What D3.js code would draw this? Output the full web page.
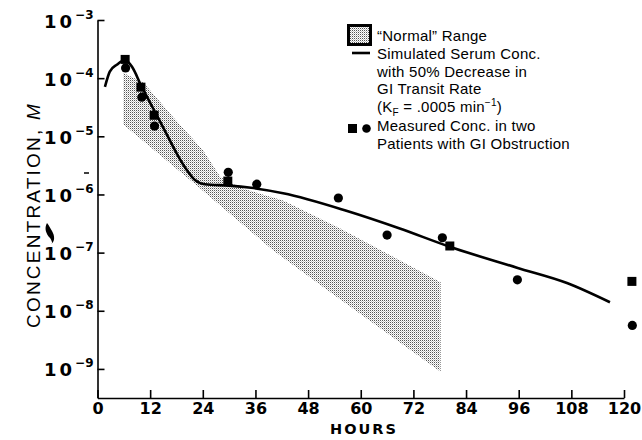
<!DOCTYPE html>
<html>
<head>
<meta charset="utf-8">
<script src="https://cdn.jsdelivr.net/npm/d3@7"></script>
<style>
  body { margin: 0; background: #fff; }
  svg { display: block; }
</style>
</head>
<body>
<svg id="chart" width="642" height="440"></svg>
<script>
// hours on the x axis, molar concentration (log) on the y axis
const xTicks = [0, 12, 24, 36, 48, 60, 72, 84, 96, 108, 120];
const yTicks = [1e-3, 1e-4, 1e-5, 1e-6, 1e-7, 1e-8, 1e-9];
const yTickExp = ["\u22123", "\u22124", "\u22125", "\u22126", "\u22127", "\u22128", "\u22129"];

// simulated serum conc. with 50% decrease in GI transit rate
const simHours = [1.7, 2.8, 4.4, 6.3, 7.9, 9.9, 12.6, 15.4, 18.1, 20.4, 22.2, 24.5, 30, 35, 42.3, 56.9, 68.9, 80.3, 95.6, 107, 116.8];
const simConc = [7.1e-5, 1.3e-4, 1.7e-4, 2.05e-4, 1.55e-4, 7.6e-5, 3.1e-5, 1.23e-5, 5.0e-6, 2.6e-6, 1.77e-6, 1.5e-6, 1.42e-6, 1.3e-6, 1.05e-6, 5.2e-7, 2.6e-7, 1.26e-7, 5.5e-8, 3.0e-8, 1.4e-8];

// "normal" range band, upper and lower edges
const bandUpperHours = [5.9, 10.5, 17.2, 24.0, 28.0, 32.5, 42.3, 55.3, 78.2];
const bandUpperConc = [1.23e-4, 8.3e-5, 2.15e-5, 5.8e-6, 2.0e-6, 1.3e-6, 7.9e-7, 2.6e-7, 3.1e-8];
const bandLowerHours = [5.9, 21.8, 40.0, 53.0, 78.2];
const bandLowerConc = [1.6e-5, 1.6e-6, 1.1e-7, 2.1e-8, 8.9e-10];

// measured conc. in two patients (squares = patient 1, circles = patient 2)
const squareHours = [6.3, 9.9, 12.9, 29.7, 80.3, 121.8];
const squareConc = [2.1e-4, 7.0e-5, 2.3e-5, 1.7e-6, 1.3e-7, 3.2e-8];
const circleHours = [6.4, 10.1, 13.0, 29.8, 36.3, 54.9, 66.0, 78.6, 95.7, 121.9];
const circleConc = [1.5e-4, 4.7e-5, 1.5e-5, 2.4e-6, 1.5e-6, 8.7e-7, 2.0e-7, 1.8e-7, 3.4e-8, 5.6e-9];

const svg = d3.select("#chart");

const x = d3.scaleLinear().domain([0, 120]).range([97.5, 624]);
const y = d3.scaleLog().domain([Math.pow(10, -9.5), 1e-3]).range([398, 20]);

// stipple pattern for the shaded range
const defs = svg.append("defs");
const pat = defs.append("pattern")
  .attr("id", "stipple")
  .attr("patternUnits", "userSpaceOnUse")
  .attr("width", 2)
  .attr("height", 2);
pat.append("rect").attr("width", 2).attr("height", 2).attr("fill", "#fff");
pat.append("rect").attr("x", 0).attr("y", 0).attr("width", 1).attr("height", 1).attr("fill", "#555");
pat.append("rect").attr("x", 1).attr("y", 1).attr("width", 1).attr("height", 1).attr("fill", "#c4c4c4");

// band polygon: upper edge forward, lower edge back
const bandPts = bandUpperHours.map((h, i) => [x(h), y(bandUpperConc[i])])
  .concat(bandLowerHours.map((h, i) => [x(h), y(bandLowerConc[i])]).reverse());
svg.append("path")
  .attr("d", d3.line()(bandPts) + "Z")
  .attr("fill", "url(#stipple)");

// axes
const axisFont = "'DejaVu Sans', sans-serif";

const gx = svg.append("g")
  .attr("transform", "translate(0,398)")
  .call(d3.axisBottom(x).tickValues(xTicks).tickSize(-8).tickSizeOuter(0).tickPadding(5));
gx.selectAll("text")
  .attr("font-family", axisFont)
  .attr("font-weight", "bold")
  .attr("font-size", 16)
  .attr("fill", "#000");

const gy = svg.append("g")
  .attr("transform", "translate(97.5,0)")
  .call(d3.axisLeft(y).tickValues(yTicks).tickSize(-7).tickSizeOuter(0).tickFormat(() => ""));
gy.selectAll(".tick text").remove();
gy.selectAll(".tick").each(function (d, i) {
  const t = d3.select(this).append("text")
    .attr("x", -4)
    .attr("y", 7)
    .attr("text-anchor", "end")
    .attr("font-family", axisFont)
    .attr("font-weight", "bold")
    .attr("font-size", 18)
    .attr("fill", "#000");
  t.append("tspan").attr("letter-spacing", 3).text("10");
  t.append("tspan").attr("dy", -9).attr("font-size", 12).text(yTickExp[i]);
});

svg.selectAll(".domain, .tick line")
  .attr("stroke", "#000")
  .attr("stroke-width", 1.6);

// axis titles
svg.append("text")
  .attr("x", 364)
  .attr("y", 434)
  .attr("text-anchor", "middle")
  .attr("font-family", axisFont)
  .attr("font-weight", "bold")
  .attr("font-size", 14.5)
  .attr("letter-spacing", 2)
  .text("HOURS");

const yTitle = svg.append("text")
  .attr("transform", "translate(40,215) rotate(-90)")
  .attr("text-anchor", "middle")
  .attr("font-family", "'Liberation Sans', Arial, sans-serif")
  .attr("font-size", 19)
  .attr("letter-spacing", 2.2);
yTitle.append("tspan").text("CONCENTRATION, ");
yTitle.append("tspan").attr("font-style", "italic").text("M");

// simulated curve
svg.append("path")
  .datum(simHours.map((h, i) => [h, simConc[i]]))
  .attr("fill", "none")
  .attr("stroke", "#000")
  .attr("stroke-width", 2.6)
  .attr("stroke-linejoin", "round")
  .attr("d", d3.line().x(d => x(d[0])).y(d => y(d[1])).curve(d3.curveMonotoneX));

// measured points
svg.selectAll(".sq")
  .data(squareHours.map((h, i) => [h, squareConc[i]]))
  .join("rect")
  .attr("class", "sq")
  .attr("x", d => x(d[0]) - 4.5)
  .attr("y", d => y(d[1]) - 4.5)
  .attr("width", 9)
  .attr("height", 9)
  .attr("fill", "#000");

svg.selectAll(".dot")
  .data(circleHours.map((h, i) => [h, circleConc[i]]))
  .join("circle")
  .attr("class", "dot")
  .attr("cx", d => x(d[0]))
  .attr("cy", d => y(d[1]))
  .attr("r", 4.6)
  .attr("fill", "#000");

// scan specks near the y axis
svg.append("path")
  .attr("d", "M84,173 L89,173")
  .attr("stroke", "#000")
  .attr("stroke-width", 1.5);
svg.append("path")
  .attr("d", "M47,223 C44,228 46,234 50,238 C52,241 53,244 51,244 C55,242 55,236 52,231 C50,228 49,225 47,223 Z")
  .attr("fill", "#000");

// legend
const legFont = "'Liberation Sans Narrow', 'Liberation Sans', Arial, sans-serif";
const leg = svg.append("g");
leg.append("rect")
  .attr("x", 348.5).attr("y", 25.5)
  .attr("width", 22).attr("height", 19)
  .attr("fill", "url(#stipple)")
  .attr("stroke", "#000")
  .attr("stroke-width", 3);
leg.append("line")
  .attr("x1", 352).attr("x2", 370)
  .attr("y1", 53).attr("y2", 53)
  .attr("stroke", "#000")
  .attr("stroke-width", 2.6);
leg.append("rect")
  .attr("x", 348).attr("y", 124)
  .attr("width", 9).attr("height", 9)
  .attr("fill", "#000");
leg.append("circle")
  .attr("cx", 366.5).attr("cy", 128.5)
  .attr("r", 4.3)
  .attr("fill", "#000");

const legLines = [
  { y: 41, parts: [["\u201CNormal\u201D Range"]] },
  { y: 59, parts: [["Simulated Serum Conc."]] },
  { y: 77, parts: [["with 50% Decrease in"]] },
  { y: 94, parts: [["GI Transit Rate"]] },
  { y: 112, parts: [["(K"], ["F", "sub"], [" = .0005 min"], ["\u22121", "sup"], [")"]] },
  { y: 131, parts: [["Measured Conc. in two"]] },
  { y: 149, parts: [["Patients with GI Obstruction"]] }
];
legLines.forEach(line => {
  const t = leg.append("text")
    .attr("x", 377)
    .attr("y", line.y)
    .attr("font-family", legFont)
    .attr("font-size", 15)
    .attr("letter-spacing", 0.25)
    .attr("fill", "#000");
  let shift = 0;
  line.parts.forEach(p => {
    const sp = t.append("tspan").text(p[0]);
    if (p[1] === "sub") { sp.attr("dy", 4).attr("font-size", 10); shift = -4; }
    else if (p[1] === "sup") { sp.attr("dy", -6).attr("font-size", 10); shift = 6; }
    else if (shift) { sp.attr("dy", shift); shift = 0; }
  });
});
</script>
</body>
</html>
